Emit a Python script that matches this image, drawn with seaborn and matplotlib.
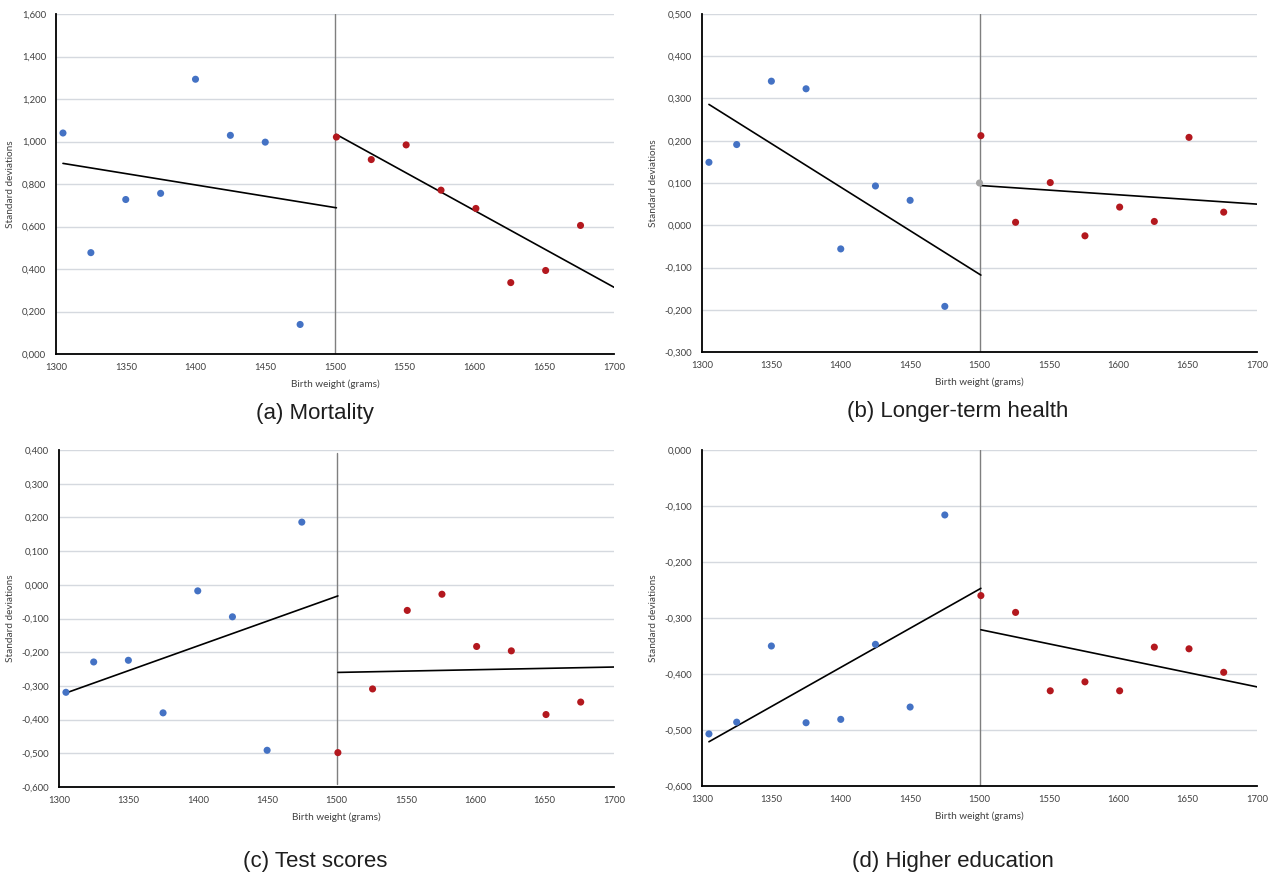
import numpy as np
import pandas as pd
import seaborn as sns
import matplotlib
matplotlib.use("Agg")
import matplotlib.pyplot as plt
from matplotlib.ticker import FuncFormatter, MultipleLocator

# --- Data (birth weight bins, effect in SD) ---
X_LEFT = [1305, 1325, 1350, 1375, 1400, 1425, 1450, 1475]
X_RIGHT = [1501, 1526, 1551, 1576, 1601, 1626, 1651, 1676]
FIT_X_LEFT = [1305, 1501]
FIT_X_RIGHT = [1501, 1700]

mortality_left = [1.040, 0.477, 0.727, 0.756, 1.293, 1.029, 0.997, 0.139]
mortality_right = [1.021, 0.915, 0.984, 0.771, 0.685, 0.336, 0.393, 0.605]
mortality_fit_left = [0.897, 0.688]
mortality_fit_right = [1.033, 0.314]

health_left = [0.149, 0.191, 0.341, 0.323, -0.056, 0.093, 0.059, -0.192]
health_right = [0.212, 0.007, 0.101, -0.025, 0.043, 0.009, 0.208, 0.031]
health_cutoff_x = [1500]
health_cutoff = [0.100]
health_fit_left = [0.286, -0.118]
health_fit_right = [0.094, 0.050]

test_left = [-0.319, -0.229, -0.224, -0.380, -0.018, -0.095, -0.491, 0.186]
test_right = [-0.498, -0.309, -0.076, -0.028, -0.183, -0.196, -0.385, -0.348]
test_fit_left = [-0.321, -0.033]
test_fit_right = [-0.260, -0.244]

edu_left = [-0.507, -0.486, -0.350, -0.487, -0.481, -0.347, -0.459, -0.116]
edu_right = [-0.260, -0.290, -0.430, -0.414, -0.430, -0.352, -0.355, -0.397]
edu_fit_left = [-0.521, -0.247]
edu_fit_right = [-0.321, -0.423]

TITLES = ["(a) Mortality", "(b) Longer-term health", "(c) Test scores", "(d) Higher education"]
YLIMS = [(0.0, 1.6, 0.2), (-0.3, 0.5, 0.1), (-0.6, 0.4, 0.1), (-0.6, 0.0, 0.1)]

PALETTE = {"below": "#4472C4", "above": "#B3181E", "cutoff": "#A5A5A5"}

# --- Layout (figure fractions) ---
AX_POS = [
    [56 / 1277, 1 - 354 / 876, 558 / 1277, 340 / 876],
    [702 / 1277, 1 - 352 / 876, 555 / 1277, 338 / 876],
    [59 / 1277, 1 - 787 / 876, 555 / 1277, 337 / 876],
    [702 / 1277, 1 - 786 / 876, 555 / 1277, 336 / 876],
]
TITLE_POS = [(315, 413), (958, 412), (315, 862), (953, 861)]
VLINE_SPAN = [(0, 1), (0, 1), (0.01, 0.99), (0, 1)]


def make_points(left, right, extra_x=None, extra_y=None):
    df = pd.concat([
        pd.DataFrame({"x": X_LEFT, "y": left, "side": "below"}),
        pd.DataFrame({"x": X_RIGHT, "y": right, "side": "above"}),
    ], ignore_index=True)
    if extra_x is not None:
        df = pd.concat([df, pd.DataFrame({"x": extra_x, "y": extra_y, "side": "cutoff"})],
                       ignore_index=True)
    return df


def make_fit(fit_left, fit_right):
    return pd.concat([
        pd.DataFrame({"x": FIT_X_LEFT, "y": fit_left, "seg": "left"}),
        pd.DataFrame({"x": FIT_X_RIGHT, "y": fit_right, "seg": "right"}),
    ], ignore_index=True)


panels = [
    (make_points(mortality_left, mortality_right), make_fit(mortality_fit_left, mortality_fit_right)),
    (make_points(health_left, health_right, health_cutoff_x, health_cutoff),
     make_fit(health_fit_left, health_fit_right)),
    (make_points(test_left, test_right), make_fit(test_fit_left, test_fit_right)),
    (make_points(edu_left, edu_right), make_fit(edu_fit_left, edu_fit_right)),
]

sns.set_style("white")
plt.rcParams["font.family"] = ["Lato", "DejaVu Sans"]

fig = plt.figure(figsize=(12.77, 8.76), dpi=100)

comma_fmt = FuncFormatter(lambda v, p: f"{v:.3f}".replace(".", ",").replace("-0,000", "0,000"))

for i, (pts, fit) in enumerate(panels):
    ax = fig.add_axes(AX_POS[i])
    ymin, ymax, step = YLIMS[i]

    ax.set_axisbelow(True)
    ax.yaxis.grid(True, color="#D5D9DF", linewidth=1.0)
    ax.xaxis.grid(False)

    lo, hi = VLINE_SPAN[i]
    ax.axvline(1500, ymin=lo, ymax=hi, color="#7F7F7F", linewidth=1.0, zorder=2)

    sns.lineplot(data=fit, x="x", y="y", units="seg", estimator=None,
                 color="black", linewidth=1.2, ax=ax, zorder=3)
    sns.scatterplot(data=pts, x="x", y="y", hue="side", palette=PALETTE,
                    s=26, linewidth=0, legend=False, ax=ax, zorder=4)

    ax.set_xlim(1300, 1700)
    ax.set_ylim(ymin, ymax)
    ax.xaxis.set_major_locator(MultipleLocator(50))
    ax.yaxis.set_major_locator(MultipleLocator(step))
    ax.yaxis.set_major_formatter(comma_fmt)
    ax.tick_params(axis="both", length=0, labelsize=6.8, labelcolor="#404040")
    ax.tick_params(axis="x", pad=6.5)
    ax.tick_params(axis="y", pad=7)

    for side in ["top", "right"]:
        ax.spines[side].set_visible(False)
    for side in ["left", "bottom"]:
        ax.spines[side].set_color("black")
        ax.spines[side].set_linewidth(1.3)

    ax.set_xlabel("Birth weight (grams)", fontsize=7.2, color="#404040", labelpad=5)
    ax.set_ylabel("Standard deviations", fontsize=7.2, color="#404040", labelpad=5)

    tx, ty = TITLE_POS[i]
    fig.text(tx / 1277, 1 - ty / 876, TITLES[i], ha="center", va="center",
             fontsize=16, color="#1E1E1E", family=["Liberation Sans", "DejaVu Sans"])

fig.savefig("out.png", dpi=100)
